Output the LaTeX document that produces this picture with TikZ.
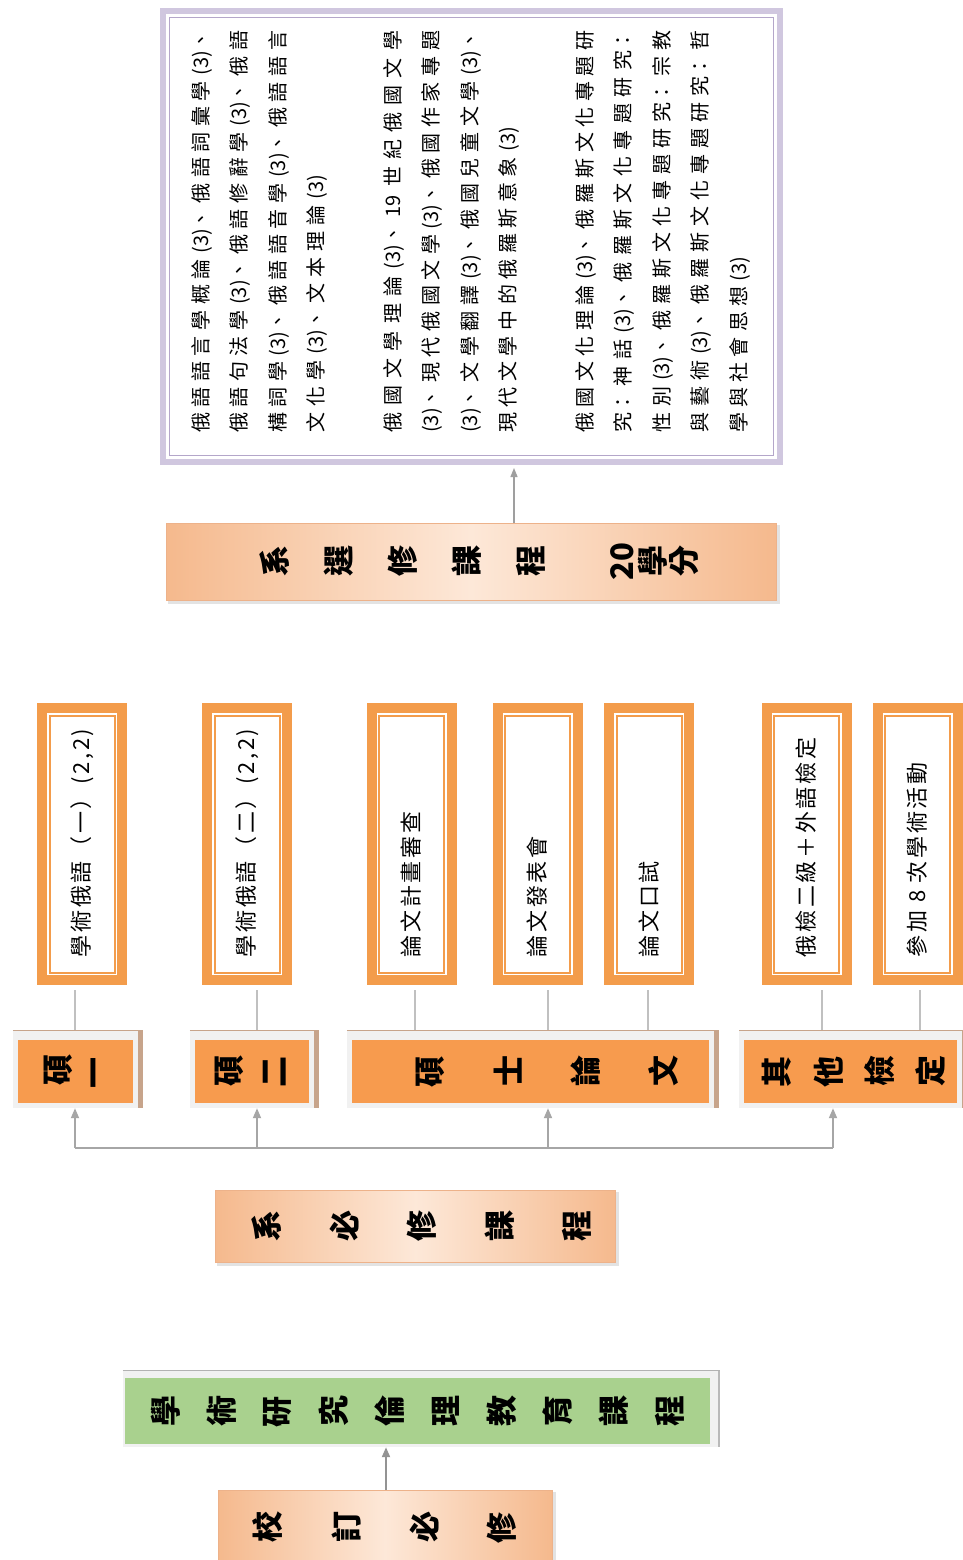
\documentclass[tikz,border=0pt]{standalone}
\usepackage{fontspec}
\setmainfont{Noto Sans CJK TC}
\newfontfamily\boxfont[LetterSpace=12]{Noto Sans CJK TC}
\usetikzlibrary{arrows.meta,backgrounds,calc}
\XeTeXlinebreaklocale "zh"
\XeTeXlinebreakskip=0pt plus 4pt
\tolerance=10000
\hbadness=10000
\definecolor{ofr}{HTML}{F39C4B}
\definecolor{ofill}{HTML}{F79B4E}
\definecolor{peachD}{HTML}{F5B98D}
\definecolor{peachL}{HTML}{FDE8D8}
\definecolor{peachB}{HTML}{EDB28A}
\definecolor{greenF}{HTML}{A9D18E}
\definecolor{purT}{HTML}{D0C7DF}
\definecolor{purt}{HTML}{B4A6CA}
\definecolor{frameG}{HTML}{F1F1F1}
\definecolor{tanL}{HTML}{C7A48B}
\definecolor{grayL}{HTML}{A6A6A6}
\definecolor{connG}{HTML}{C0C0C0}
\makeatletter
\newcommand\spreadchars[2]{\@tfor\sc@c:=#2\do{\makebox[#1]{\rotatebox[origin=c]{90}{\sc@c}}}}
\makeatother
% end a paragraph whose last line is spread to (402pt - #1)
\newcommand\spreadend[1]{\hspace*{#1}{\parfillskip=0pt\par}}
\begin{document}
\begin{tikzpicture}[x=1pt,y=-1pt,
  pbox/.style={draw=purT, line width=6pt, fill=white, inner sep=0pt,
    path picture={\draw[purt, line width=1.5pt] ([shift={(6.5pt,6.5pt)}]path picture bounding box.south west) rectangle ([shift={(-6.5pt,-6.5pt)}]path picture bounding box.north east);}},
  obox/.style={draw=ofr, line width=10pt, fill=white, inner sep=0pt, minimum width=80pt, minimum height=272pt,
    font=\boxfont\fontsize{22}{26}\selectfont,
    path picture={\draw[ofr, line width=2pt] ([shift={(7.5pt,7.5pt)}]path picture bounding box.south west) rectangle ([shift={(-7.5pt,-7.5pt)}]path picture bounding box.north east);}},
  rowbox/.style={fill=ofill, inner sep=0pt, minimum height=63pt, font=\bfseries\fontsize{31}{34}\selectfont},
  grad/.style={left color=peachD, right color=peachD, middle color=peachL, draw=peachB, line width=1pt, inner sep=0pt, font=\bfseries\fontsize{31}{34}\selectfont},
  greenbox/.style={fill=greenF, inner sep=0pt, minimum height=66pt, font=\bfseries\fontsize{31}{34}\selectfont},
  arr/.style={draw=grayL, line width=1.8pt, -{Triangle[length=10pt,width=8pt]}},
  bus/.style={draw=grayL, line width=1.8pt},
  thinconn/.style={draw=connG, line width=1.2pt}
]
\useasboundingbox (0,0) rectangle (963,1560);

% top elective box
\node[pbox, minimum width=617pt, minimum height=451pt] (top) at (471.5,236.5) {};
\node[rotate=90, anchor=north west, text width=402pt, align=justify, inner sep=0pt,
      font=\fontsize{20}{38.5}\selectfont] (toptext) at (191,433) {%
俄語語言學概論(3)、俄語詞彙學(3)、\linebreak
俄語句法學(3)、俄語修辭學(3)、俄語\linebreak
構詞學(3)、俄語語音學(3)、俄語語言\linebreak
文化學(3)、文本理論(3)\spreadend{144pt}\vspace{38pt}
俄國文學理論(3)、19 世紀俄國文學\linebreak
(3)、現代俄國文學(3)、俄國作家專題\linebreak
(3)、文學翻譯(3)、俄國兒童文學(3)、\linebreak
現代文學中的俄羅斯意象(3)\spreadend{96pt}\vspace{38pt}
俄國文化理論(3)、俄羅斯文化專題研\linebreak
究：神話(3)、俄羅斯文化專題研究：\linebreak
性別(3)、俄羅斯文化專題研究：宗教\linebreak
與藝術(3)、俄羅斯文化專題研究：哲\linebreak
學與社會思想(3)\spreadend{226pt}};

\node[grad, minimum width=610pt, minimum height=77pt] (sx) at (471,561.5)
  {\spreadchars{64pt}{系選修課程}\hspace{44pt}\spreadchars{31pt}{{20}學分}\hspace{115pt}};

% middle detail boxes
\node[obox] (m1) at (82,844) {\rotatebox{90}{\makebox[226pt][l]{學術俄語（一）(2,2)}}};
\node[obox] (m2) at (247,844) {\rotatebox{90}{\makebox[226pt][l]{學術俄語（二）(2,2)}}};
\node[obox] (m3) at (411.5,844) {\rotatebox{90}{\makebox[226pt][l]{論文計畫審查}}};
\node[obox] (m4) at (537.5,844) {\rotatebox{90}{\makebox[226pt][l]{論文發表會}}};
\node[obox] (m5) at (649,844) {\rotatebox{90}{\makebox[226pt][l]{論文口試}}};
\node[obox] (m6) at (806.5,844) {\rotatebox{90}{\makebox[226pt][l]{俄檢二級＋外語檢定}}};
\node[obox] (m7) at (917.5,844) {\rotatebox{90}{\makebox[226pt][l]{參加 8 次學術活動}}};

% row boxes
\node[rowbox, minimum width=115pt] (r1) at (75.5,1071.5) {\hspace{5pt}\spreadchars{40pt}{碩一}};
\node[rowbox, minimum width=114pt] (r2) at (252,1071.5) {\spreadchars{46pt}{碩二}};
\node[rowbox, minimum width=357pt] (r3) at (530.5,1071.5) {\hspace{32pt}\spreadchars{77.7pt}{碩士論文}};
\node[rowbox, minimum width=205pt] (r4) at (850.5,1071.5) {\hspace{7pt}\spreadchars{51.3pt}{其他檢定}};

\node[grad, minimum width=395pt, minimum height=72pt] (sb) at (415.5,1226)
  {\hspace{13pt}\spreadchars{77.5pt}{系必修課程}};

\node[greenbox, minimum width=585pt] (gb) at (417.5,1411) {\spreadchars{56pt}{學術研究倫理教育課程}};

\node[grad, minimum width=334pt, minimum height=75pt] (xd) at (385,1527.5) {\spreadchars{78pt}{校訂必修}};

% backgrounds and frames
\begin{scope}[on background layer]
  \fill[white] (0,0) rectangle (963,1560);
  \foreach \n in {r1,r2,r3,r4}{
    \fill[frameG] ([shift={(-5pt,-5pt)}]\n.south west) rectangle ([shift={(10pt,10pt)}]\n.north east);
    \fill[tanL] ([shift={(5pt,10pt)}]\n.north east) rectangle ([shift={(10pt,-5pt)}]\n.south east);
    \draw[tanL, line width=1.5pt] ([shift={(-5pt,9.25pt)}]\n.north west) -- ([shift={(10pt,9.25pt)}]\n.north east);
  }
  \fill[frameG] ([shift={(-2pt,-3pt)}]gb.south west) rectangle ([shift={(10pt,8pt)}]gb.north east);
  \fill[gray!55] ([shift={(8pt,8pt)}]gb.north east) rectangle ([shift={(10pt,-3pt)}]gb.south east);
  \draw[gray!60, line width=1.5pt] ([shift={(-2pt,7.25pt)}]gb.north west) -- ([shift={(10pt,7.25pt)}]gb.north east);
  \foreach \n in {sx,sb,xd}{
    \fill[gray!22] ([shift={(2pt,-3pt)}]\n.south west) rectangle ([shift={(3pt,-2pt)}]\n.north east);
  }
\end{scope}

% connectors
\coordinate (ax) at (514,0);
\coordinate (gx) at (386,0);
\coordinate (b1) at (75,1148);
\coordinate (b2) at (257,1148);
\coordinate (b3) at (548,1148);
\coordinate (b4) at (833,1148);
\coordinate (c1) at (75,0);
\coordinate (c2) at (257,0);
\coordinate (c3) at (415,0);
\coordinate (c4) at (548,0);
\coordinate (c5) at (648,0);
\coordinate (c6) at (822,0);
\coordinate (c7) at (920,0);

\draw[arr, draw=gray!75, line width=1.3pt, -{Triangle[length=9pt,width=7pt]}] (sx.north -| ax) -- ($(top.south -| ax)+(0,3)$);

\draw[thinconn] ($(m1.south -| c1)+(0,5)$) -- ($(r1.north -| c1)+(0,-10)$);
\draw[thinconn] ($(m2.south -| c2)+(0,5)$) -- ($(r2.north -| c2)+(0,-10)$);
\draw[thinconn] ($(m3.south -| c3)+(0,5)$) -- ($(r3.north -| c3)+(0,-10)$);
\draw[thinconn] ($(m4.south -| c4)+(0,5)$) -- ($(r3.north -| c4)+(0,-10)$);
\draw[thinconn] ($(m5.south -| c5)+(0,5)$) -- ($(r3.north -| c5)+(0,-10)$);
\draw[thinconn] ($(m6.south -| c6)+(0,5)$) -- ($(r4.north -| c6)+(0,-10)$);
\draw[thinconn] ($(m7.south -| c7)+(0,5)$) -- ($(r4.north -| c7)+(0,-10)$);

\draw[bus] (b1) -- (b4);
\draw[arr] (b1) -- ($(r1.south -| b1)+(0,5)$);
\draw[arr] (b2) -- ($(r2.south -| b2)+(0,5)$);
\draw[arr] (b3) -- ($(r3.south -| b3)+(0,5)$);
\draw[arr] (b4) -- ($(r4.south -| b4)+(0,5)$);

\draw[arr, draw=gray!85, line width=2pt] (xd.north -| gx) -- ($(gb.south -| gx)+(0,3)$);
\end{tikzpicture}
\end{document}
